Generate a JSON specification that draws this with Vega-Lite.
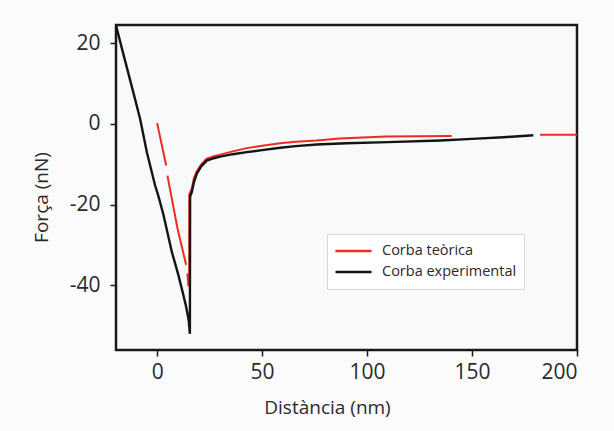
{
  "$schema": "https://vega.github.io/schema/vega-lite/v6.json",
  "autosize": "none",
  "width": 461,
  "height": 325,
  "padding": {"left": 116, "top": 25, "right": 37, "bottom": 81},
  "background": "#fbfbfc",
  "config": {
    "view": {"stroke": "#1a1a1a", "strokeWidth": 2.5, "fill": "#f8f9fb"},
    "font": "Open Sans"
  },
  "datasets": {
    "teo": [
      {"x": 0, "y": 0.2, "seg": "a", "s": "Corba teòrica"},
      {"x": 4.3, "y": -10.3, "seg": "a", "s": "Corba teòrica"},
      {"x": 4.9, "y": -12.8, "seg": "b", "s": "Corba teòrica"},
      {"x": 9.7, "y": -25.9, "seg": "b", "s": "Corba teòrica"},
      {"x": 13.8, "y": -34.9, "seg": "b", "s": "Corba teòrica"},
      {"x": 14.4, "y": -37, "seg": "c", "s": "Corba teòrica"},
      {"x": 14.9, "y": -40, "seg": "c", "s": "Corba teòrica"},
      {"x": 15.3, "y": -40, "seg": "c", "s": "Corba teòrica"},
      {"x": 15.3, "y": -17.5, "seg": "c", "s": "Corba teòrica"},
      {"x": 16.5, "y": -16, "seg": "c", "s": "Corba teòrica"},
      {"x": 17.5, "y": -13.5, "seg": "c", "s": "Corba teòrica"},
      {"x": 18.9, "y": -11.7, "seg": "c", "s": "Corba teòrica"},
      {"x": 21, "y": -10, "seg": "c", "s": "Corba teòrica"},
      {"x": 23.6, "y": -8.6, "seg": "c", "s": "Corba teòrica"},
      {"x": 27, "y": -8.0, "seg": "c", "s": "Corba teòrica"},
      {"x": 30, "y": -7.6, "seg": "c", "s": "Corba teòrica"},
      {"x": 36, "y": -6.8, "seg": "c", "s": "Corba teòrica"},
      {"x": 42.7, "y": -6.0, "seg": "c", "s": "Corba teòrica"},
      {"x": 50, "y": -5.4, "seg": "c", "s": "Corba teòrica"},
      {"x": 58.6, "y": -4.8, "seg": "c", "s": "Corba teòrica"},
      {"x": 66, "y": -4.4, "seg": "c", "s": "Corba teòrica"},
      {"x": 76, "y": -4.1, "seg": "c", "s": "Corba teòrica"},
      {"x": 87, "y": -3.6, "seg": "c", "s": "Corba teòrica"},
      {"x": 109, "y": -3.1, "seg": "c", "s": "Corba teòrica"},
      {"x": 140.3, "y": -3.0, "seg": "c", "s": "Corba teòrica"},
      {"x": 182.4, "y": -2.7, "seg": "d", "s": "Corba teòrica"},
      {"x": 200, "y": -2.7, "seg": "d", "s": "Corba teòrica"}
    ],
    "exp": [
      {"x": -19.6, "y": 24.4, "s": "Corba experimental"},
      {"x": -16, "y": 17.1, "s": "Corba experimental"},
      {"x": -12, "y": 9.1, "s": "Corba experimental"},
      {"x": -8.1, "y": 1.2, "s": "Corba experimental"},
      {"x": -4.9, "y": -7, "s": "Corba experimental"},
      {"x": -1, "y": -15.2, "s": "Corba experimental"},
      {"x": 0.6, "y": -17.9, "s": "Corba experimental"},
      {"x": 3, "y": -22.5, "s": "Corba experimental"},
      {"x": 7, "y": -31.7, "s": "Corba experimental"},
      {"x": 10.1, "y": -37.4, "s": "Corba experimental"},
      {"x": 12.5, "y": -42.4, "s": "Corba experimental"},
      {"x": 13.8, "y": -45.3, "s": "Corba experimental"},
      {"x": 15.0, "y": -48.5, "s": "Corba experimental"},
      {"x": 15.6, "y": -52, "s": "Corba experimental"},
      {"x": 15.7, "y": -18, "s": "Corba experimental"},
      {"x": 16.5, "y": -16.9, "s": "Corba experimental"},
      {"x": 17.5, "y": -14.5, "s": "Corba experimental"},
      {"x": 18.9, "y": -12.3, "s": "Corba experimental"},
      {"x": 21, "y": -10.5, "s": "Corba experimental"},
      {"x": 23.6, "y": -9.1, "s": "Corba experimental"},
      {"x": 27, "y": -8.5, "s": "Corba experimental"},
      {"x": 30, "y": -8.1, "s": "Corba experimental"},
      {"x": 36, "y": -7.5, "s": "Corba experimental"},
      {"x": 42.7, "y": -7.0, "s": "Corba experimental"},
      {"x": 50, "y": -6.5, "s": "Corba experimental"},
      {"x": 58.6, "y": -5.9, "s": "Corba experimental"},
      {"x": 66, "y": -5.5, "s": "Corba experimental"},
      {"x": 76, "y": -5.1, "s": "Corba experimental"},
      {"x": 90, "y": -4.8, "s": "Corba experimental"},
      {"x": 110, "y": -4.5, "s": "Corba experimental"},
      {"x": 135, "y": -4.1, "s": "Corba experimental"},
      {"x": 150, "y": -3.7, "s": "Corba experimental"},
      {"x": 165, "y": -3.3, "s": "Corba experimental"},
      {"x": 179.2, "y": -2.8, "s": "Corba experimental"}
    ]
  },
  "encoding": {
    "x": {
      "field": "x", "type": "quantitative",
      "scale": {"domain": [-19.6, 200], "nice": false, "zero": false},
      "axis": {
        "title": "Distància (nm)", "values": [0, 50, 100, 150, 200],
        "labelExpr": "'' + datum.value",
        "domain": false, "grid": false, "tickSize": 6, "tickWidth": 1.5, "tickColor": "#1a1a1a",
        "labelFontSize": 21, "labelColor": "#2a2a2a", "labelPadding": 5, "labelFont": "Open Sans",
        "titleFontSize": 19, "titleFontWeight": "normal", "titleColor": "#2a2a2a", "titlePadding": 16,
        "titleX": 211, "titleFont": "Open Sans"
      }
    },
    "y": {
      "field": "y", "type": "quantitative",
      "scale": {"domain": [-56, 24.5], "nice": false, "zero": false},
      "axis": {
        "title": "Força (nN)", "values": [-40, -20, 0, 20],
        "labelExpr": "'' + datum.value",
        "domain": false, "grid": false, "tickSize": 6, "tickWidth": 1.5, "tickColor": "#1a1a1a",
        "labelFontSize": 21, "labelColor": "#2a2a2a", "labelPadding": 10, "labelFont": "Open Sans",
        "titleFontSize": 19, "titleFontWeight": "normal", "titleColor": "#2a2a2a", "titlePadding": 18,
        "titleY": 172, "titleFont": "Open Sans"
      }
    },
    "color": {
      "field": "s", "type": "nominal",
      "scale": {"domain": ["Corba teòrica", "Corba experimental"], "range": ["#ee2a22", "#141414"]},
      "legend": {
        "title": null, "orient": "none", "legendX": 211, "legendY": 209,
        "symbolType": "stroke", "symbolSize": 1300, "symbolStrokeWidth": 2.5,
        "clipHeight": 20, "labelFontSize": 14.5, "labelColor": "#2a2a2a", "labelFont": "Open Sans",
        "fillColor": "#ffffff", "strokeColor": "#d6d6d6", "padding": 7, "rowPadding": 1, "labelOffset": 9
      }
    }
  },
  "layer": [
    {
      "data": {"name": "teo"},
      "mark": {"type": "line", "strokeWidth": 2, "clip": true},
      "encoding": {"detail": {"field": "seg"}}
    },
    {
      "data": {"name": "exp"},
      "mark": {"type": "line", "strokeWidth": 2.4, "clip": true},
      "encoding": {}
    }
  ]
}
